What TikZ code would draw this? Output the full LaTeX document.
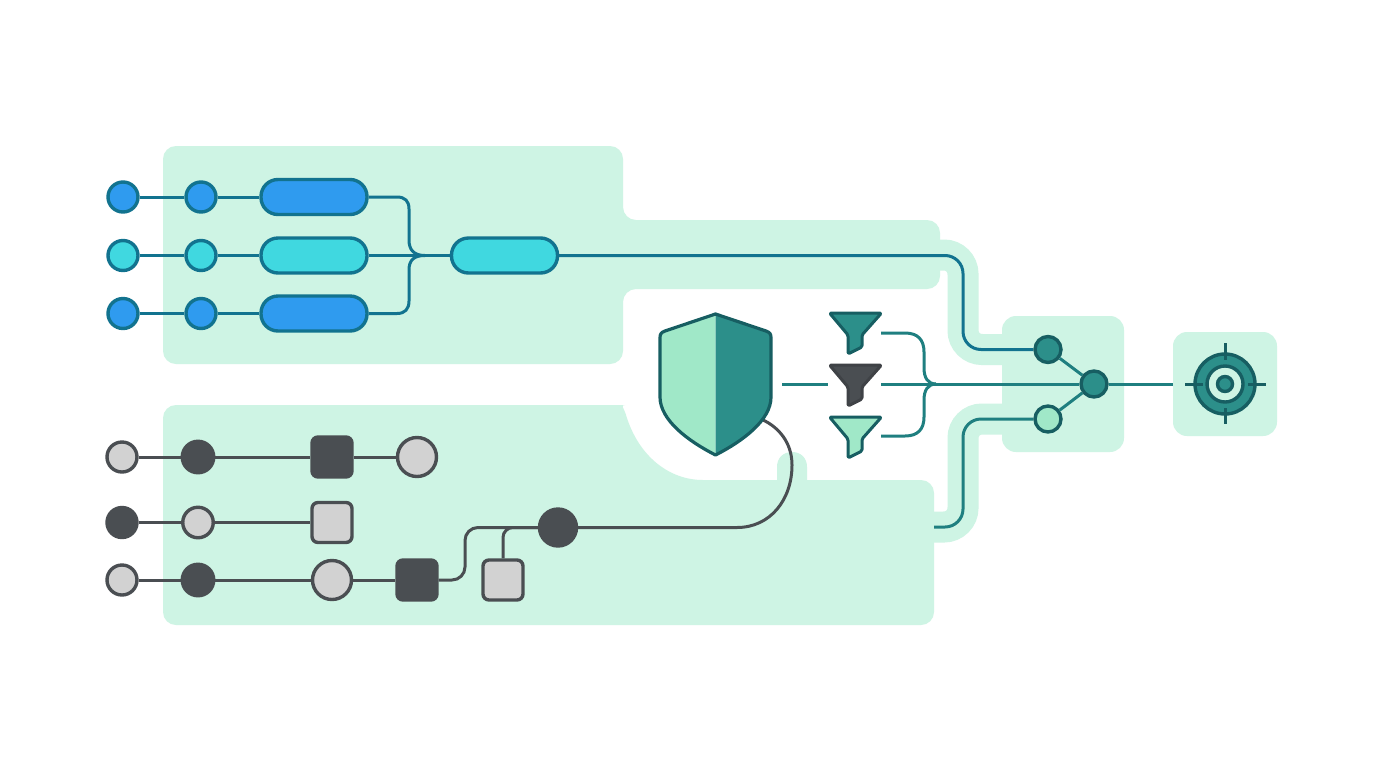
\documentclass[tikz,border=0pt]{standalone}
\usetikzlibrary{calc}
\pgfdeclarelayer{backs}
\pgfdeclarelayer{wires}
\pgfsetlayers{backs,wires,main}
\definecolor{mint}{HTML}{CEF4E4}
\definecolor{blueA}{HTML}{2F9BEF}
\definecolor{cyanA}{HTML}{40D8E0}
\definecolor{bluewire}{HTML}{12738F}
\definecolor{tealA}{HTML}{2C8F8A}
\definecolor{tealwire}{HTML}{1F7F80}
\definecolor{tealdark}{HTML}{175E62}
\definecolor{lightmint}{HTML}{A0E8C8}
\definecolor{graydark}{HTML}{4A4E52}
\definecolor{graylight}{HTML}{D2D2D2}
\def\u{0.75pt}
\tikzset{
  blueline/.style={draw=bluewire,line width=3.4*\u,inner sep=0pt},
  grayline/.style={draw=graydark,line width=3.4*\u,inner sep=0pt},
  dot/.style={circle,minimum size=#1*\u},
  pill/.style={blueline,rectangle,rounded corners=17*\u,minimum width=106*\u,minimum height=35*\u},
  sq/.style={grayline,rectangle,rounded corners=6*\u,minimum size=40*\u},
  bwire/.style={draw=bluewire,line width=3*\u},
  gwire/.style={draw=graydark,line width=3*\u},
  twire/.style={draw=tealwire,line width=3*\u},
  halo/.style={draw=mint,line width=31*\u,rounded corners=19*\u},
  tnode/.style={draw=tealdark,line width=3.4*\u,inner sep=0pt,circle},
  fun/.style={line width=3*\u,line join=round,rounded corners=1.5*\u},
  ticks/.style={draw=tealdark,line width=3*\u}
}
\newcommand{\myfunnel}[3]{%
  \path[fun,fill=#2,draw=#3] (829.5,#1+2) -- (881.5,#1+2) -- (862,#1+24) -- (862,#1+36) -- (848,#1+43) -- (848,#1+24) -- cycle;}
\begin{document}
\begin{tikzpicture}[x=0.75pt,y=-0.75pt]
\useasboundingbox (0,0) rectangle (1376,768);

% ---- top row nodes
\foreach \n/\y/\c in {a/197/blueA,b/255.5/cyanA,c/313.5/blueA}{
  \node[blueline,dot=30,fill=\c] (\n1) at (123,\y) {};
  \node[blueline,dot=30,fill=\c] (\n2) at (201,\y) {};
  \node[pill,fill=\c] (\n3) at (314,\y) {};
}
\node[pill,fill=cyanA] (d) at (504.5,255.5) {};

% ---- bottom rows
\node[grayline,dot=30,fill=graylight] (e1) at (122,457) {};
\node[grayline,dot=31.5,fill=graydark] (e2) at (198,457) {};
\node[sq,fill=graydark] (e3) at (332,457) {};
\node[grayline,dot=39,fill=graylight] (e4) at (417,457) {};
\node[grayline,dot=30,fill=graydark] (f1) at (122,522.5) {};
\node[grayline,dot=30.5,fill=graylight] (f2) at (198,522.5) {};
\node[sq,fill=graylight] (f3) at (332,522.5) {};
\node[grayline,dot=30,fill=graylight] (g1) at (122,580) {};
\node[grayline,dot=31.5,fill=graydark] (g2) at (198,580) {};
\node[grayline,dot=39,fill=graylight] (g3) at (332,580) {};
\node[sq,fill=graydark] (g4) at (417,580) {};
\node[sq,fill=graylight] (g5) at (503,580) {};
\node[grayline,dot=37,fill=graydark] (h) at (558,527.5) {};

% ---- shield
\path[fill=lightmint] (715.5,314) -- (665,331) .. controls (661,332.5) and (660,334) .. (660,338) -- (660,397) .. controls (660,420) and (688,441) .. (715.5,455) -- cycle;
\path[fill=tealA] (715.5,314) -- (766,331) .. controls (770,332.5) and (771,334) .. (771,338) -- (771,397) .. controls (771,420) and (743,441) .. (715.5,455) -- cycle;
\draw[draw=tealdark,line width=3.2*\u,line join=round] (715.5,314) -- (766,331) .. controls (770,332.5) and (771,334) .. (771,338) -- (771,397) .. controls (771,420) and (743,441) .. (715.5,455) .. controls (688,441) and (660,420) .. (660,397) -- (660,338) .. controls (660,334) and (661,332.5) .. (665,331) -- cycle;
\coordinate (shieldR) at (782,384);
\coordinate (shieldB) at (763,420);

% ---- funnels
\myfunnel{311}{tealA}{tealdark}
\myfunnel{363}{graydark}{graydark!85!black}
\myfunnel{415}{lightmint}{tealdark}
\coordinate (fa) at (881,333);
\coordinate (fbL) at (828,384);
\coordinate (fbR) at (881,384);
\coordinate (fc) at (881,436);
\coordinate (fmerge) at (936,384);

% ---- merge nodes
\node[tnode,dot=26,fill=tealA] (m1) at (1048,349.5) {};
\node[tnode,dot=26,fill=lightmint] (m2) at (1048,419) {};
\node[tnode,dot=26,fill=tealA] (m3) at (1094,384) {};

% ---- target
\coordinate (tbox) at (1173,384);
\node[tnode,dot=60,fill=tealA] (t1) at (1225,384) {};
\node[tnode,dot=36,fill=mint] (t2) at (1225,384) {};
\node[tnode,dot=15,fill=tealA] (t3) at (1225,384) {};
\draw[ticks] (1225,343) -- (1225,360);
\draw[ticks] (1225,408) -- (1225,424);
\draw[ticks] (1185,384) -- (1203,384);
\draw[ticks] (1248,384) -- (1266,384);

\coordinate (mergeTop) at (425,255.5);

\begin{pgfonlayer}{backs}
  \fill[white] (0,0) rectangle (1376,768);
  % top panel
  \fill[mint,rounded corners=13*\u] (163,260) -- (163,146) -- (623,146) -- (623,220) -- (940,220) -- (940,289) -- (623,289) -- (623,364) -- (163,364) -- cycle;
  % bottom panel
  \fill[mint] (163,500) [rounded corners=13*\u] -- (163,405) -- (612,405) [sharp corners] .. controls (620,405) and (624,408) .. (626,415) .. controls (638,455) and (668,480) .. (703,480) -- (777,480) -- (777,467) .. controls (777,458) and (783,452) .. (792,452) .. controls (801,452) and (807,458) .. (807,467) -- (807,480) [rounded corners=13*\u] -- (934,480) -- (934,625) -- (163,625) -- cycle;
  % merge and target panels
  \fill[mint,rounded corners=14*\u] (1002,316) rectangle (1124,452);
  \fill[mint,rounded corners=14*\u] (1173,332) rectangle (1277,436);
  % route halos
  \draw[halo] (925,255) -- (963,255) -- (963,349.5) -- (1015,349.5);
  \draw[halo] (925,527) -- (963,527) -- (963,419) -- (1015,419);
\end{pgfonlayer}

\begin{pgfonlayer}{wires}
  \foreach \n in {a,b,c}{
    \draw[bwire] (\n1) -- (\n2);
    \draw[bwire] (\n2) -- (\n3);
  }
  \draw[bwire] (a3.east) -- (397,197) .. controls (405,197) and (409,201) .. (409,209) -- (409,240) .. controls (409,250) and (414,255.5) .. (mergeTop);
  \draw[bwire] (c3.east) -- (397,313.5) .. controls (405,313.5) and (409,309) .. (409,301) -- (409,270) .. controls (409,260) and (414,255.5) .. (mergeTop);
  \draw[bwire] (b3.east) -- (mergeTop) -- (d.west);
  \draw[bwire,rounded corners=18*\u] (d.east) -- (963,255.5) -- (963,349.5) -- (m1);
  \draw[twire,rounded corners=18*\u] (934,527) -- (963,527) -- (963,419) -- (m2);

  \draw[gwire] (e1) -- (e2);
  \draw[gwire] (e2) -- (e3);
  \draw[gwire] (e3) -- (e4);
  \draw[gwire] (f1) -- (f2);
  \draw[gwire] (f2) -- (f3);
  \draw[gwire] (g1) -- (g2);
  \draw[gwire] (g2) -- (g3);
  \draw[gwire] (g3) -- (g4);
  \draw[gwire,rounded corners=13*\u] (g4.east) -- (465,580) -- (465,527.5) -- (h);
  \draw[gwire,rounded corners=10*\u] (g5.north) -- (503,527.5) -- (h);
  \draw[gwire] (h) -- (737,527.5) .. controls (770,527.5) and (792,500) .. (792,465) .. controls (792,442) and (778,427) .. (shieldB);

  \draw[twire] (shieldR) -- (fbL);
  \draw[twire] (fbR) -- (m3);
  \draw[twire] (fa) -- (905,333) .. controls (918,333) and (924,340) .. (924,352) -- (924,368) .. controls (924,378) and (928,384) .. (fmerge);
  \draw[twire] (fc) -- (905,436) .. controls (918,436) and (924,429) .. (924,417) -- (924,400) .. controls (924,390) and (928,384) .. (fmerge);
  \draw[twire] (m1) -- (m3);
  \draw[twire] (m2) -- (m3);
  \draw[twire] (m3) -- (tbox);
\end{pgfonlayer}
\end{tikzpicture}
\end{document}
